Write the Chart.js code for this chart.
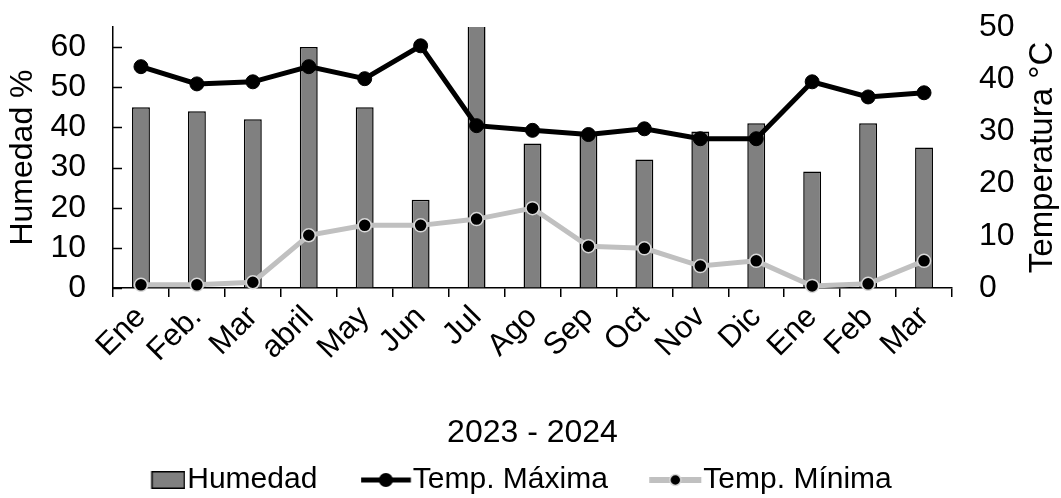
<!DOCTYPE html>
<html>
<head>
<meta charset="utf-8">
<script src="https://cdn.jsdelivr.net/npm/chart.js@4"></script>
<style>
  body { margin: 0; background: #fff; }
  #wrap { width: 1061px; height: 498px; position: relative; }
</style>
</head>
<body>
<div id="wrap"><canvas id="chart"></canvas></div>
<script>
// data
const meses = ['Ene', 'Feb.', 'Mar', 'abril', 'May', 'Jun', 'Jul', 'Ago', 'Sep', 'Oct', 'Nov', 'Dic', 'Ene', 'Feb', 'Mar'];
const humedad = [45, 44, 42, 60, 45, 22, 67, 36, 38.5, 32, 39, 41, 29, 41, 35];
const tempMax = [42.4, 39.1, 39.5, 42.4, 40.1, 46.4, 31.1, 30.2, 29.4, 30.5, 28.6, 28.6, 39.5, 36.6, 37.4];
const tempMin = [0.6, 0.6, 1.1, 10.1, 12, 12, 13.2, 15.3, 8, 7.6, 4.2, 5.2, 0.4, 0.8, 5.2];
const ticksHumedad = [0, 10, 20, 30, 40, 50, 60];
const ticksTemp = [0, 10, 20, 30, 40, 50];

const FONT = '"Liberation Sans", Arial, sans-serif';
const FS = 30;      // legend
const FS_TICK = 32;
const FS_TITLE = 32;
const BOX_W = 20.5;

// legend icons: canvas centered on x + BOX_W/2, icon must end just before the text
function makeIcon(iconW, draw) {
    const right = BOX_W / 2 + FS / 2 - 2;
    const left = right - iconW;
    const W = Math.ceil(2 * Math.max(Math.abs(left), Math.abs(right)));
    const H = 24;
    const c = document.createElement('canvas');
    c.width = W;
    c.height = H;
    const ctx = c.getContext('2d');
    draw(ctx, W / 2 + left, H / 2, iconW);
    return c;
}

const iconHumedad = makeIcon(34, (ctx, x0, cy, w) => {
    ctx.fillStyle = '#808080';
    ctx.fillRect(x0, cy - 9, w, 18);
    ctx.strokeStyle = '#000';
    ctx.lineWidth = 1.5;
    ctx.strokeRect(x0 + 0.75, cy - 8.25, w - 1.5, 16.5);
});
const iconMax = makeIcon(50, (ctx, x0, cy, w) => {
    ctx.strokeStyle = '#000';
    ctx.lineWidth = 5;
    ctx.beginPath();
    ctx.moveTo(x0, cy);
    ctx.lineTo(x0 + w, cy);
    ctx.stroke();
    ctx.fillStyle = '#000';
    ctx.beginPath();
    ctx.arc(x0 + w / 2, cy, 7, 0, Math.PI * 2);
    ctx.fill();
});
const iconMin = makeIcon(52, (ctx, x0, cy, w) => {
    ctx.strokeStyle = '#c0c0c0';
    ctx.lineWidth = 6;
    ctx.beginPath();
    ctx.moveTo(x0, cy);
    ctx.lineTo(x0 + w, cy);
    ctx.stroke();
    ctx.fillStyle = '#000';
    ctx.strokeStyle = '#d9d9d9';
    ctx.lineWidth = 1.5;
    ctx.beginPath();
    ctx.arc(x0 + w / 2, cy, 5.5, 0, Math.PI * 2);
    ctx.fill();
    ctx.stroke();
});
const icons = [iconHumedad, iconMax, iconMin];

// inward tick marks on the left axis + right axis title reading upwards
const extras = {
    id: 'extras',
    afterDraw(chart) {
        const {ctx, chartArea, scales} = chart;
        ctx.save();
        ctx.strokeStyle = '#000';
        ctx.lineWidth = 1.5;
        scales.y.ticks.forEach(t => {
            const py = Math.round(scales.y.getPixelForValue(t.value)) + 0.5;
            ctx.beginPath();
            ctx.moveTo(chartArea.left, py);
            ctx.lineTo(chartArea.left + 9, py);
            ctx.stroke();
        });
        ctx.translate(1043, (chartArea.top + chartArea.bottom) / 2);
        ctx.rotate(-Math.PI / 2);
        ctx.font = '33px ' + FONT;
        ctx.fillStyle = '#000';
        ctx.textAlign = 'center';
        ctx.textBaseline = 'middle';
        ctx.fillText('Temperatura °C', 0, 0);
        ctx.restore();
    }
};

new Chart(document.getElementById('chart'), {
    type: 'bar',
    data: {
        labels: meses,
        datasets: [{
            label: 'Humedad',
            data: humedad,
            backgroundColor: '#808080',
            borderColor: '#000',
            borderWidth: 1.5,
            barPercentage: 0.32,
            categoryPercentage: 1,
            yAxisID: 'y',
            order: 3
        }, {
            type: 'line',
            label: 'Temp. Máxima',
            data: tempMax,
            borderColor: '#000',
            borderWidth: 5,
            pointRadius: 7,
            pointBackgroundColor: '#000',
            pointBorderColor: '#000',
            pointBorderWidth: 1,
            yAxisID: 'y1',
            clip: false,
            order: 1
        }, {
            type: 'line',
            label: 'Temp. Mínima',
            data: tempMin,
            borderColor: '#c0c0c0',
            borderWidth: 5,
            pointRadius: 6.5,
            pointBackgroundColor: '#000',
            pointBorderColor: '#d9d9d9',
            pointBorderWidth: 1.5,
            yAxisID: 'y1',
            clip: false,
            order: 2
        }]
    },
    options: {
        responsive: true,
        maintainAspectRatio: false,
        animation: false,
        layout: { padding: { top: 27, bottom: -7, left: 0, right: 17.5 } },
        plugins: {
            tooltip: { enabled: false },
            legend: {
                position: 'bottom',
                labels: {
                    usePointStyle: true,
                    pointStyleWidth: BOX_W,
                    boxHeight: FS,
                    padding: 60,
                    color: '#000',
                    font: { family: FONT, size: FS },
                    sort: (a, b) => a.datasetIndex - b.datasetIndex,
                    generateLabels(chart) {
                        const items = Chart.defaults.plugins.legend.labels.generateLabels(chart);
                        items.forEach(it => { it.pointStyle = icons[it.datasetIndex]; });
                        return items;
                    }
                }
            }
        },
        scales: {
            x: {
                grid: { display: true, drawOnChartArea: false, drawTicks: true, tickLength: 9, color: '#000', lineWidth: 1.5, offset: true },
                border: { display: true, color: '#000', width: 1.5 },
                ticks: { color: '#000', font: { family: FONT, size: 31 }, minRotation: 45, maxRotation: 45, padding: 2, autoSkip: false },
                title: { display: true, text: '2023 - 2024', color: '#000', font: { family: FONT, size: FS_TITLE }, padding: { top: 4, bottom: -47 } },
                afterFit(scale) { scale.height = 117; }
            },
            y: {
                position: 'left',
                min: 0,
                max: 65,
                afterBuildTicks(scale) { scale.ticks = ticksHumedad.map(v => ({ value: v })); },
                grid: { drawOnChartArea: false, drawTicks: false },
                border: { display: true, color: '#000', width: 1.5 },
                ticks: { color: '#000', font: { family: FONT, size: FS_TICK }, padding: 27 },
                title: { display: true, text: 'Humedad %', color: '#000', font: { family: FONT, size: FS_TITLE }, padding: { top: 4, bottom: 4 } },
                afterFit(scale) { scale.width = 113; scale.paddingTop = 0; scale.paddingBottom = 0; }
            },
            y1: {
                position: 'right',
                min: 0,
                max: 50,
                afterBuildTicks(scale) { scale.ticks = ticksTemp.map(v => ({ value: v })); },
                grid: { drawOnChartArea: false, drawTicks: false },
                border: { display: false },
                ticks: { color: '#000', font: { family: FONT, size: FS_TICK }, padding: 27 },
                afterFit(scale) { scale.width = 91.5; scale.paddingTop = 0; scale.paddingBottom = 0; }
            }
        }
    },
    plugins: [extras]
});
</script>
</body>
</html>
